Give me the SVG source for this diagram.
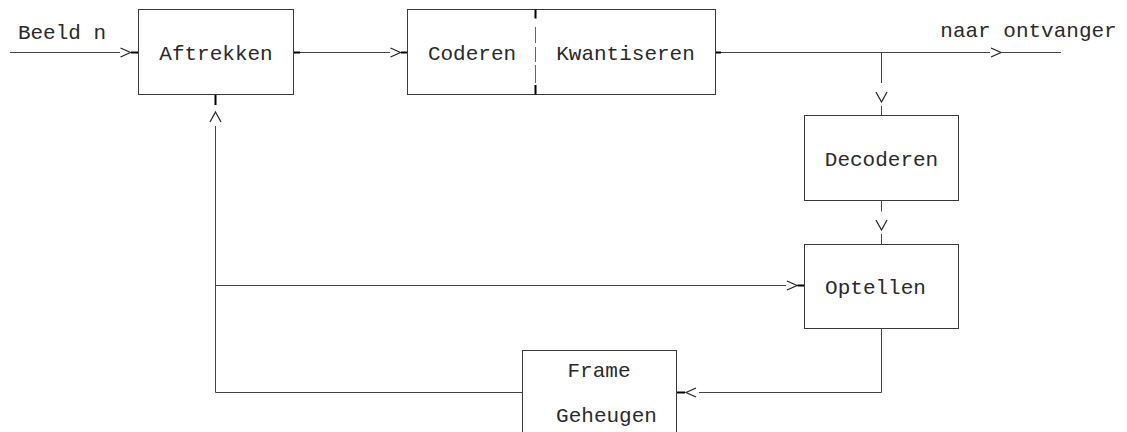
<svg xmlns="http://www.w3.org/2000/svg" xmlns:xlink="http://www.w3.org/1999/xlink" width="1127" height="432" viewBox="0 0 1127 432">
  <style>
    .box { fill: #ffffff; stroke: #3a3a3a; stroke-width: 1; }
    .wire { fill: none; stroke: #444444; stroke-width: 1; }
    .tick { fill: none; stroke: #000000; stroke-width: 2; }
    .sep { fill: none; stroke: #666666; stroke-width: 1; }
    .lbl { font-family: "Liberation Mono", "Courier New", monospace; font-size: 21px; fill: #2a2a2a; text-anchor: middle; }
  </style>
  <defs>
    <!-- ascii-style chevron heads -->
    <path id="head-right" d="M0,-4.5 L10,0 L0,4.5" fill="none" stroke="#222" stroke-width="1.2"/>
    <path id="head-left" d="M10,-4.5 L0,0 L10,4.5" fill="none" stroke="#222" stroke-width="1.2"/>
    <path id="head-down" d="M-5.5,0 L0,10 L5.5,0" fill="none" stroke="#222" stroke-width="1.2"/>
    <path id="head-up" d="M-5.5,10 L0,0 L5.5,10" fill="none" stroke="#222" stroke-width="1.2"/>
  </defs>

  <rect width="1127" height="432" fill="#ffffff"/>

  <g id="connectors">
    <!-- input -->
    <line class="wire" x1="10" y1="52.5" x2="120" y2="52.5"/>
    <use xlink:href="#head-right" x="120.5" y="52.5"/>
    <line class="tick" x1="131" y1="52.5" x2="138.5" y2="52.5"/>

    <!-- Aftrekken to Coderen -->
    <line class="tick" x1="293.5" y1="52.5" x2="300" y2="52.5"/>
    <line class="wire" x1="300" y1="52.5" x2="390" y2="52.5"/>
    <use xlink:href="#head-right" x="390.5" y="52.5"/>
    <line class="tick" x1="401" y1="52.5" x2="407.5" y2="52.5"/>

    <!-- Kwantiseren output -->
    <line class="tick" x1="715.5" y1="52.5" x2="721" y2="52.5"/>
    <line class="wire" x1="721" y1="52.5" x2="990" y2="52.5"/>
    <use xlink:href="#head-right" x="991" y="52.5"/>
    <line class="wire" x1="1002" y1="52.5" x2="1061" y2="52.5"/>

    <!-- branch down to Decoderen -->
    <line class="wire" x1="881.5" y1="52.5" x2="881.5" y2="83"/>
    <use xlink:href="#head-down" x="881.5" y="92"/>
    <line class="wire" x1="881.5" y1="106" x2="881.5" y2="115.5"/>

    <!-- Decoderen to Optellen -->
    <line class="wire" x1="881.5" y1="200.5" x2="881.5" y2="211.5"/>
    <use xlink:href="#head-down" x="881.5" y="220"/>
    <line class="wire" x1="881.5" y1="234" x2="881.5" y2="244.5"/>

    <!-- Optellen down to Frame Geheugen -->
    <polyline class="wire" points="881.5,328.5 881.5,392.5 699,392.5"/>
    <use xlink:href="#head-left" x="686" y="392.5"/>
    <line class="tick" x1="676.5" y1="392.5" x2="685" y2="392.5"/>

    <!-- Frame Geheugen back to Aftrekken -->
    <line class="wire" x1="522.5" y1="392.5" x2="215.5" y2="392.5"/>
    <line class="wire" x1="215.5" y1="392.5" x2="215.5" y2="126"/>
    <use xlink:href="#head-up" x="215.5" y="112"/>
    <line class="tick" x1="215.5" y1="94.5" x2="215.5" y2="105"/>

    <!-- feed into Optellen -->
    <line class="wire" x1="215.5" y1="285.5" x2="786" y2="285.5"/>
    <use xlink:href="#head-right" x="787" y="285.5"/>
    <line class="tick" x1="797.5" y1="285.5" x2="804.5" y2="285.5"/>
  </g>

  <g id="aftrekken">
    <rect class="box" x="138.5" y="9.5" width="155" height="85"/>
    <text class="lbl" x="216" y="60">Aftrekken</text>
  </g>

  <g id="coderen-kwantiseren">
    <rect class="box" x="407.5" y="9.5" width="308" height="85"/>
    <line class="tick" x1="535.5" y1="9.5" x2="535.5" y2="18.5"/>
    <line class="sep" x1="535.5" y1="27" x2="535.5" y2="43"/>
    <line class="sep" x1="535.5" y1="47" x2="535.5" y2="62"/>
    <line class="sep" x1="535.5" y1="65" x2="535.5" y2="83"/>
    <line class="tick" x1="535.5" y1="85" x2="535.5" y2="94.5"/>
    <text class="lbl" x="472" y="60">Coderen</text>
    <text class="lbl" x="625.5" y="60">Kwantiseren</text>
  </g>

  <g id="decoderen">
    <rect class="box" x="804.5" y="115.5" width="154" height="85"/>
    <text class="lbl" x="881.5" y="166">Decoderen</text>
  </g>

  <g id="optellen">
    <rect class="box" x="804.5" y="244.5" width="154" height="84"/>
    <text class="lbl" x="875.5" y="293.5">Optellen</text>
  </g>

  <g id="frame-geheugen">
    <rect class="box" x="522.5" y="350.5" width="154" height="95"/>
    <text class="lbl" x="599" y="377">Frame</text>
    <text class="lbl" x="606.5" y="421.5">Geheugen</text>
  </g>

  <g id="labels">
    <text class="lbl" x="62" y="38.5">Beeld n</text>
    <text class="lbl" x="1028.5" y="37">naar ontvanger</text>
  </g>
</svg>
